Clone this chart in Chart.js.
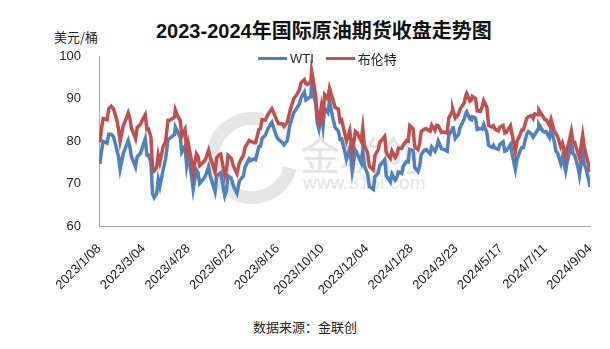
<!DOCTYPE html>
<html lang="zh">
<head>
    <meta charset="UTF-8">
    <title>2023-2024年国际原油期货收盘走势图</title>
    <script src="https://cdn.jsdelivr.net/npm/chart.js"></script>
    <style>
        body {
            margin: 0;
            background: #fff;
            font-family: "Liberation Sans", "Noto Sans CJK SC", sans-serif;
        }
        .wrap {
            position: relative;
            width: 610px;
            height: 349px;
            overflow: hidden;
        }
        .wrap canvas {
            position: absolute;
            left: 0;
            top: 0;
            z-index: 2;
        }
        .title {
            position: absolute;
            left: 156px;
            top: 15px;
            font: bold 20px "Liberation Sans", "Noto Sans CJK SC", sans-serif;
            color: #111;
            white-space: nowrap;
        }
        .unit {
            position: absolute;
            left: 54px;
            top: 27px;
            font: 13px "Noto Sans CJK SC", sans-serif;
            color: #222;
        }
        .legend {
            position: absolute;
            top: 49px;
            left: 258px;
            font: 13px "Liberation Sans", "Noto Sans CJK SC", sans-serif;
            color: #222;
            display: flex;
            align-items: center;
            z-index: 3;
        }
        .legend span.line {
            display: inline-block;
            width: 29px;
            height: 3px;
            margin-right: 3px;
        }
        .legend span.txt { margin-right: 12px; }
        .source {
            position: absolute;
            left: 0;
            width: 610px;
            text-align: center;
            top: 317px;
            font: 13px "Noto Sans CJK SC", sans-serif;
            color: #222;
        }
        /* faint watermark behind the lines */
        .wm1 {
            position: absolute;
            left: 300px;
            top: 124px;
            font: 40px "Noto Sans CJK SC", sans-serif;
            color: #e4e4e4;
            z-index: 1;
        }
        .wm2 {
            position: absolute;
            left: 303px;
            top: 172px;
            font: 19px "Liberation Sans", sans-serif;
            color: #e4e4e4;
            z-index: 1;
        }
        .logo {
            position: absolute;
            left: 206px;
            top: 112px;
            width: 66px;
            height: 66px;
            border-radius: 50%;
            border: 13px solid #e6e6e6;
            border-right-color: transparent;
            transform: rotate(-30deg);
            z-index: 1;
        }
    </style>
</head>
<body>
<div class="wrap">
    <div class="logo"></div>
    <div class="wm1">金联创</div>
    <div class="wm2">www.315i.com</div>
    <div class="title">2023-2024年国际原油期货收盘走势图</div>
    <div class="unit">美元/桶</div>
    <div class="legend">
        <span class="line" style="background:#4f81bd"></span><span class="txt">WTI</span>
        <span class="line" style="background:#c0504d"></span><span class="txt">布伦特</span>
    </div>
    <div class="source">数据来源：金联创</div>
    <canvas id="oilChart" width="610" height="349"></canvas>
</div>

<script>
    // first day on the axis, ticks every 55 days
    const startDate = '2023-01-08';
    const tickStep = 55;
    const axisDays = 605;
    const yTicks = [60, 70, 80, 90, 100];

    const dates = [
        // 2023
        '2023-01-09','2023-01-11','2023-01-13','2023-01-18','2023-01-20','2023-01-23','2023-01-26','2023-01-30',
        '2023-02-01','2023-02-03','2023-02-07','2023-02-09','2023-02-13','2023-02-15','2023-02-17','2023-02-22','2023-02-24','2023-02-28',
        '2023-03-02','2023-03-06','2023-03-08','2023-03-10','2023-03-13','2023-03-15','2023-03-17','2023-03-20','2023-03-22','2023-03-24','2023-03-28','2023-03-31',
        '2023-04-03','2023-04-05','2023-04-11','2023-04-12','2023-04-14','2023-04-18','2023-04-20','2023-04-24','2023-04-26','2023-04-28',
        '2023-05-02','2023-05-04','2023-05-08','2023-05-10','2023-05-12','2023-05-16','2023-05-19','2023-05-23','2023-05-25','2023-05-31',
        '2023-06-02','2023-06-05','2023-06-07','2023-06-12','2023-06-14','2023-06-16','2023-06-20','2023-06-23','2023-06-27','2023-06-30',
        '2023-07-05','2023-07-07','2023-07-12','2023-07-14','2023-07-18','2023-07-20','2023-07-24','2023-07-26','2023-07-28',
        '2023-08-01','2023-08-04','2023-08-09','2023-08-11','2023-08-15','2023-08-17','2023-08-22','2023-08-24','2023-08-28','2023-08-31',
        '2023-09-05','2023-09-08','2023-09-12','2023-09-14','2023-09-18','2023-09-20','2023-09-22','2023-09-26','2023-09-27','2023-09-28',
        '2023-10-02','2023-10-04','2023-10-06','2023-10-09','2023-10-11','2023-10-13','2023-10-17','2023-10-19','2023-10-23','2023-10-26','2023-10-30',
        '2023-11-01','2023-11-03','2023-11-07','2023-11-09','2023-11-13','2023-11-16','2023-11-20','2023-11-22','2023-11-27','2023-11-29',
        '2023-12-01','2023-12-05','2023-12-07','2023-12-12','2023-12-14','2023-12-18','2023-12-20','2023-12-26','2023-12-28',
        // 2024
        '2024-01-02','2024-01-04','2024-01-08','2024-01-10','2024-01-12','2024-01-16','2024-01-18','2024-01-22','2024-01-24','2024-01-26','2024-01-30',
        '2024-02-01','2024-02-05','2024-02-07','2024-02-09','2024-02-13','2024-02-15','2024-02-20','2024-02-22','2024-02-26','2024-02-28',
        '2024-03-01','2024-03-05','2024-03-08','2024-03-12','2024-03-14','2024-03-18','2024-03-19','2024-03-22','2024-03-26','2024-03-28',
        '2024-04-02','2024-04-04','2024-04-05','2024-04-09','2024-04-11','2024-04-12','2024-04-16','2024-04-18','2024-04-22','2024-04-24','2024-04-26','2024-04-30',
        '2024-05-02','2024-05-06','2024-05-08','2024-05-10','2024-05-14','2024-05-16','2024-05-20','2024-05-22','2024-05-24','2024-05-29','2024-05-31',
        '2024-06-04','2024-06-06','2024-06-10','2024-06-12','2024-06-14','2024-06-18','2024-06-20','2024-06-24','2024-06-26','2024-06-28',
        '2024-07-02','2024-07-03','2024-07-08','2024-07-10','2024-07-12','2024-07-16','2024-07-18','2024-07-22','2024-07-24','2024-07-26','2024-07-30',
        '2024-08-01','2024-08-05','2024-08-07','2024-08-09','2024-08-12','2024-08-14','2024-08-16','2024-08-20','2024-08-22','2024-08-26','2024-08-28','2024-08-30',
        '2024-09-03','2024-09-04'
    ];

    const wti = [
        74.6, 77.4, 79.9, 79.5, 81.6, 81.6, 81.0, 77.9,
        76.4, 73.4, 77.1, 78.1, 80.1, 78.6, 76.3, 73.9, 76.3, 77.1,
        78.2, 80.5, 76.7, 76.7, 74.8, 67.6, 66.7, 67.6, 70.9, 69.3, 73.2, 75.7,
        80.4, 80.6, 81.5, 83.3, 82.5, 80.9, 77.4, 78.8, 74.3, 76.8,
        71.7, 68.6, 73.2, 72.6, 70.0, 70.9, 71.7, 73.9, 71.8, 68.1,
        71.7, 72.2, 72.5, 67.1, 68.3, 71.8, 71.2, 69.2, 67.7, 70.6,
        71.8, 73.9, 75.8, 75.4, 75.8, 75.6, 78.7, 78.8, 80.6,
        81.4, 82.8, 84.4, 83.2, 81.0, 80.4, 79.6, 79.1, 80.1, 83.6,
        86.7, 87.5, 88.8, 90.2, 91.5, 89.7, 90.0, 90.4, 93.7, 91.7,
        88.8, 84.2, 82.8, 86.4, 83.5, 87.7, 86.7, 89.4, 85.5, 83.2, 82.3,
        80.4, 80.5, 77.4, 75.7, 78.3, 72.9, 77.8, 77.1, 74.9, 77.9,
        74.1, 72.3, 69.3, 68.6, 71.6, 72.5, 74.2, 75.6, 71.8,
        70.4, 72.2, 70.8, 71.4, 72.7, 72.4, 74.1, 75.2, 75.1, 78.0, 77.8,
        73.8, 72.8, 73.9, 76.8, 77.9, 78.0, 77.0, 78.6, 77.6, 78.5,
        80.0, 78.2, 78.0, 77.6, 81.3, 82.7, 83.5, 80.6, 81.6, 83.2,
        85.2, 86.6, 86.9, 85.2, 85.0, 85.7, 85.4, 82.7, 82.9, 82.8, 83.9, 81.9,
        79.0, 78.5, 79.0, 78.3, 78.0, 79.2, 79.8, 77.6, 77.7, 79.2, 77.0,
        73.3, 75.6, 77.7, 78.5, 78.5, 81.6, 82.2, 81.6, 80.9, 81.5,
        82.8, 83.9, 82.3, 82.1, 82.2, 80.8, 82.8, 79.8, 77.6, 77.2, 74.7,
        76.3, 72.9, 75.2, 76.8, 80.1, 77.0, 76.7, 74.0, 71.9, 77.4, 74.5, 73.6,
        70.3, 69.2
    ];

    const brent = [
        79.7, 82.7, 85.3, 85.0, 87.6, 88.2, 87.5, 84.9,
        82.8, 79.9, 83.7, 84.5, 86.6, 85.4, 83.0, 80.6, 83.2, 83.9,
        84.8, 86.2, 82.7, 82.8, 80.8, 73.7, 73.0, 73.8, 76.7, 75.0, 78.7, 79.8,
        84.9, 84.9, 85.6, 87.3, 86.3, 84.8, 81.1, 82.7, 77.7, 79.5,
        75.3, 72.5, 77.0, 76.4, 74.2, 74.9, 75.6, 77.8, 76.3, 72.7,
        76.1, 76.7, 76.9, 71.8, 73.2, 76.6, 75.9, 73.9, 72.3, 74.9,
        76.7, 78.5, 80.1, 79.9, 79.6, 79.6, 82.7, 82.9, 85.0,
        84.9, 86.2, 87.6, 86.8, 84.9, 84.1, 84.0, 83.4, 84.4, 86.9,
        90.0, 90.7, 92.1, 93.7, 94.4, 93.5, 93.3, 94.0, 96.5, 95.4,
        90.7, 85.8, 84.6, 88.2, 85.8, 90.9, 89.9, 92.4, 89.8, 87.9, 87.5,
        84.6, 84.9, 81.6, 80.0, 82.5, 77.4, 82.3, 82.0, 80.0, 83.1,
        78.9, 77.2, 74.1, 73.2, 76.6, 78.0, 79.7, 81.1, 77.2,
        75.9, 77.6, 76.1, 76.8, 78.3, 78.3, 79.1, 80.1, 80.0, 83.6, 82.9,
        78.7, 78.0, 79.2, 82.2, 82.8, 82.9, 82.3, 83.7, 82.5, 83.7,
        83.6, 82.0, 82.1, 81.9, 85.4, 86.9, 87.4, 85.4, 86.3, 87.5,
        89.0, 90.7, 91.2, 89.4, 89.7, 90.5, 90.0, 87.1, 87.0, 88.0, 89.5, 87.9,
        83.7, 83.3, 83.6, 82.8, 82.4, 83.3, 83.7, 81.9, 82.1, 83.6, 81.6,
        77.5, 79.9, 81.6, 82.6, 82.6, 85.3, 85.7, 86.0, 85.3, 86.4,
        86.2, 87.3, 85.8, 85.1, 85.0, 83.7, 85.1, 82.4, 81.7, 81.1, 78.6,
        79.5, 76.3, 78.3, 79.7, 82.3, 79.8, 79.7, 77.2, 76.1, 81.4, 78.7, 76.9,
        73.8, 72.7
    ];

    const DAY = 86400000;
    const t0 = Date.parse(startDate + 'T00:00:00Z');

    function dayIndex(s) {
        return Math.round((Date.parse(s + 'T00:00:00Z') - t0) / DAY);
    }

    function tickLabel(v) {
        const d = new Date(t0 + v * DAY);
        const dd = String(d.getUTCDate()).padStart(2, '0');
        return d.getUTCFullYear() + '/' + (d.getUTCMonth() + 1) + '/' + dd;
    }

    const xs = dates.map(dayIndex);
    const wtiPts = wti.map((v, i) => ({ x: xs[i], y: v }));
    const brentPts = brent.map((v, i) => ({ x: xs[i], y: v }));

    const ctx = document.getElementById('oilChart').getContext('2d');
    new Chart(ctx, {
        type: 'line',
        data: {
            datasets: [
                {
                    label: 'WTI',
                    data: wtiPts,
                    borderColor: '#4f81bd',
                    borderWidth: 3.5,
                    pointRadius: 0,
                    tension: 0,
                    order: 1
                },
                {
                    label: '布伦特',
                    data: brentPts,
                    borderColor: '#c0504d',
                    borderWidth: 3.5,
                    pointRadius: 0,
                    tension: 0,
                    order: 0
                }
            ]
        },
        options: {
            responsive: false,
            animation: false,
            layout: {
                padding: { left: 59, right: 20, top: 56, bottom: 40 }
            },
            plugins: {
                legend: { display: false },
                tooltip: { enabled: false }
            },
            scales: {
                x: {
                    type: 'linear',
                    min: 0,
                    max: axisDays,
                    grid: { display: false },
                    border: { color: '#a6a6a6', width: 1 },
                    afterFit: (scale) => { scale.height = 83; },
                    afterBuildTicks: (scale) => {
                        const t = [];
                        for (let v = 0; v <= axisDays; v += tickStep) t.push({ value: v });
                        scale.ticks = t;
                    },
                    ticks: {
                        autoSkip: false,
                        minRotation: 45,
                        maxRotation: 45,
                        padding: 7,
                        color: '#222',
                        font: { family: 'Liberation Sans', size: 13 },
                        callback: (v) => tickLabel(v)
                    }
                },
                y: {
                    min: yTicks[0],
                    max: yTicks[yTicks.length - 1],
                    grid: { display: false },
                    border: { color: '#a6a6a6', width: 1 },
                    afterFit: (scale) => { scale.width = 40; },
                    afterBuildTicks: (scale) => {
                        scale.ticks = yTicks.map(v => ({ value: v }));
                    },
                    ticks: {
                        padding: 10,
                        color: '#222',
                        font: { family: 'Liberation Sans', size: 13 }
                    }
                }
            }
        }
    });
</script>
</body>
</html>
